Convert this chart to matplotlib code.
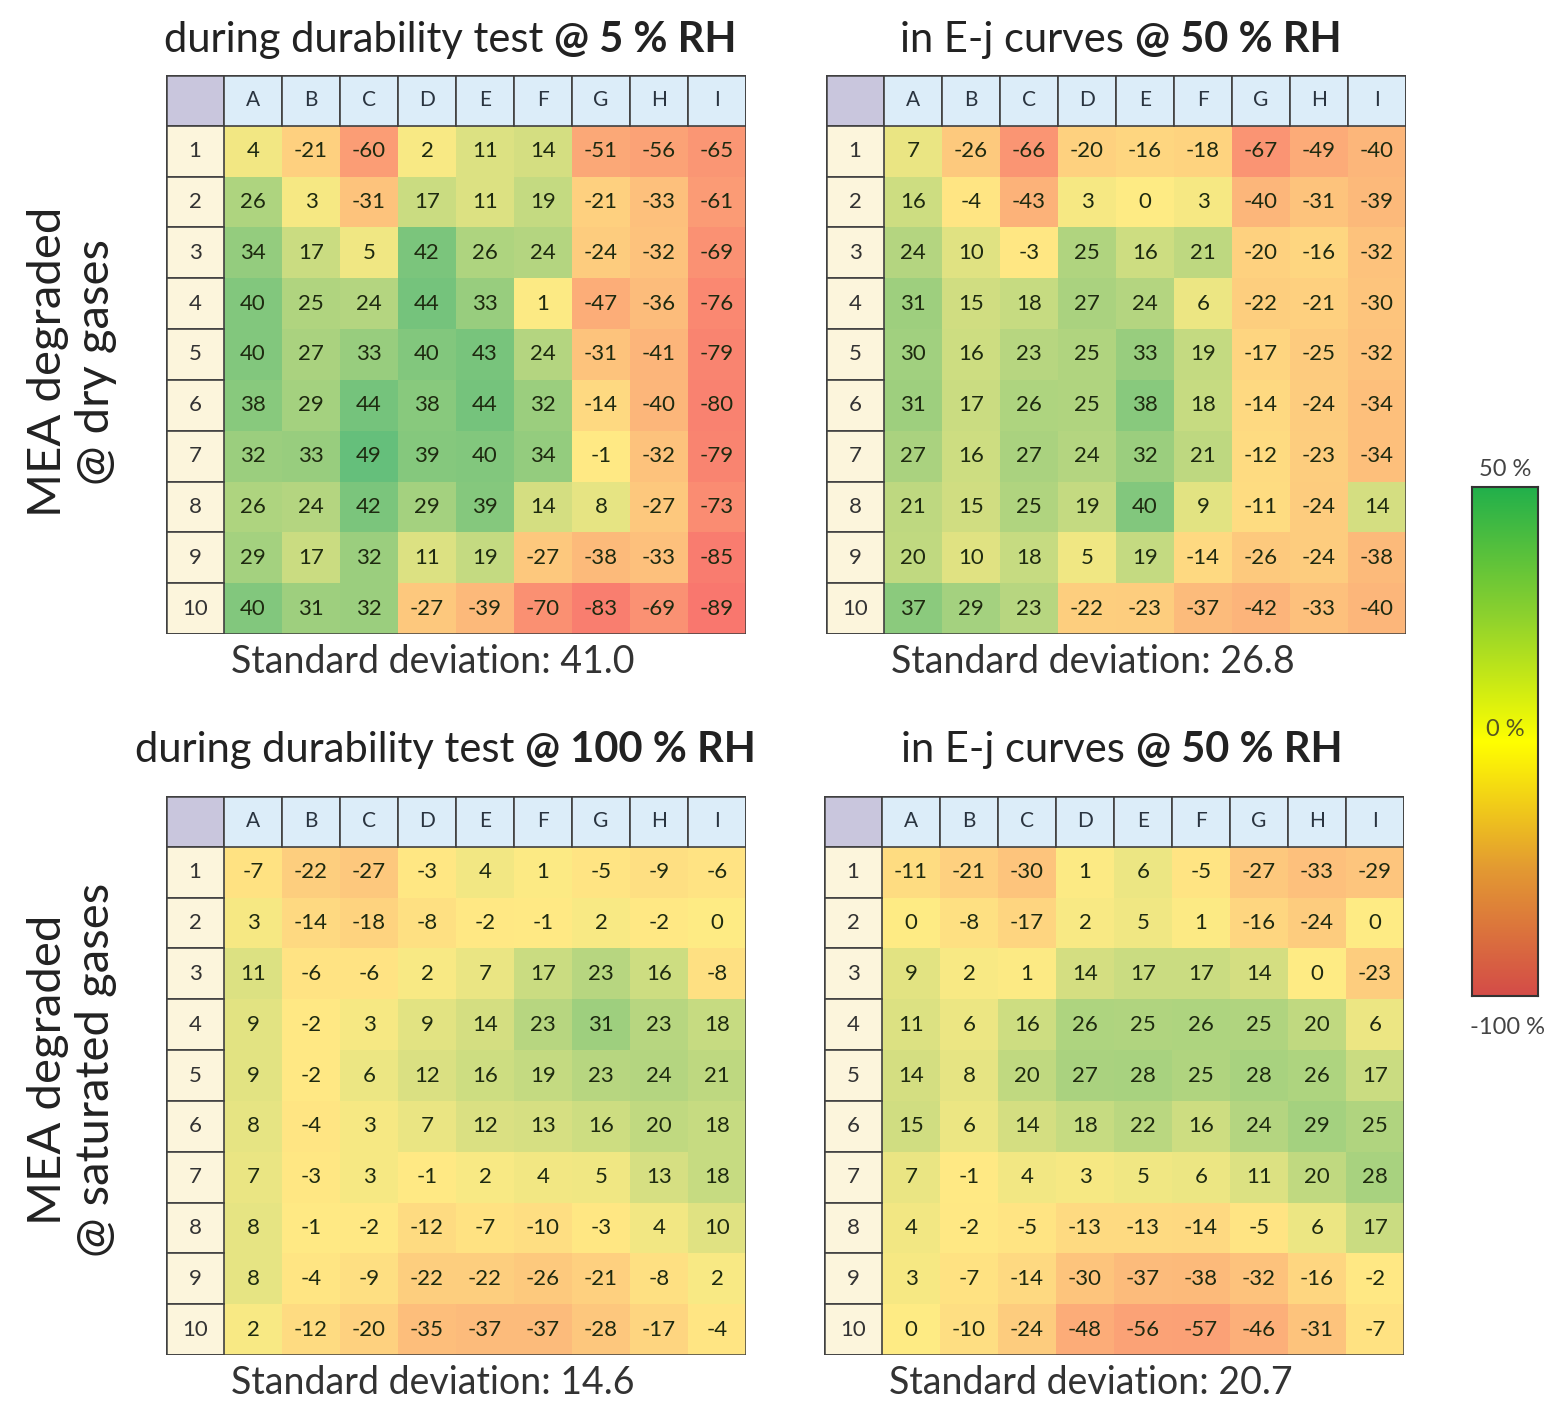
import numpy as np
import matplotlib
matplotlib.use('Agg')
import matplotlib.pyplot as plt
from matplotlib.colors import LinearSegmentedColormap, TwoSlopeNorm
from matplotlib.patches import Rectangle

plt.rcParams['font.family'] = ['Lato', 'DejaVu Sans']

# data: relative change per segment (%), rows 1-10, columns A-I
cols = ['A', 'B', 'C', 'D', 'E', 'F', 'G', 'H', 'I']
rows = [str(i) for i in range(1, 11)]

dry_durability = [
    [4, -21, -60, 2, 11, 14, -51, -56, -65],
    [26, 3, -31, 17, 11, 19, -21, -33, -61],
    [34, 17, 5, 42, 26, 24, -24, -32, -69],
    [40, 25, 24, 44, 33, 1, -47, -36, -76],
    [40, 27, 33, 40, 43, 24, -31, -41, -79],
    [38, 29, 44, 38, 44, 32, -14, -40, -80],
    [32, 33, 49, 39, 40, 34, -1, -32, -79],
    [26, 24, 42, 29, 39, 14, 8, -27, -73],
    [29, 17, 32, 11, 19, -27, -38, -33, -85],
    [40, 31, 32, -27, -39, -70, -83, -69, -89],
]
dry_ej = [
    [7, -26, -66, -20, -16, -18, -67, -49, -40],
    [16, -4, -43, 3, 0, 3, -40, -31, -39],
    [24, 10, -3, 25, 16, 21, -20, -16, -32],
    [31, 15, 18, 27, 24, 6, -22, -21, -30],
    [30, 16, 23, 25, 33, 19, -17, -25, -32],
    [31, 17, 26, 25, 38, 18, -14, -24, -34],
    [27, 16, 27, 24, 32, 21, -12, -23, -34],
    [21, 15, 25, 19, 40, 9, -11, -24, 14],
    [20, 10, 18, 5, 19, -14, -26, -24, -38],
    [37, 29, 23, -22, -23, -37, -42, -33, -40],
]
sat_durability = [
    [-7, -22, -27, -3, 4, 1, -5, -9, -6],
    [3, -14, -18, -8, -2, -1, 2, -2, 0],
    [11, -6, -6, 2, 7, 17, 23, 16, -8],
    [9, -2, 3, 9, 14, 23, 31, 23, 18],
    [9, -2, 6, 12, 16, 19, 23, 24, 21],
    [8, -4, 3, 7, 12, 13, 16, 20, 18],
    [7, -3, 3, -1, 2, 4, 5, 13, 18],
    [8, -1, -2, -12, -7, -10, -3, 4, 10],
    [8, -4, -9, -22, -22, -26, -21, -8, 2],
    [2, -12, -20, -35, -37, -37, -28, -17, -4],
]
sat_ej = [
    [-11, -21, -30, 1, 6, -5, -27, -33, -29],
    [0, -8, -17, 2, 5, 1, -16, -24, 0],
    [9, 2, 1, 14, 17, 17, 14, 0, -23],
    [11, 6, 16, 26, 25, 26, 25, 20, 6],
    [14, 8, 20, 27, 28, 25, 28, 26, 17],
    [15, 6, 14, 18, 22, 16, 24, 29, 25],
    [7, -1, 4, 3, 5, 6, 11, 20, 28],
    [4, -2, -5, -13, -13, -14, -5, 6, 17],
    [3, -7, -14, -30, -37, -38, -32, -16, -2],
    [0, -10, -24, -48, -56, -57, -46, -31, -7],
]

titles = [("during durability test", "@ 5 % RH"),
          ("in E-j curves", "@ 50 % RH"),
          ("during durability test", "@ 100 % RH"),
          ("in E-j curves", "@ 50 % RH")]
std_devs = [41.0, 26.8, 14.6, 20.7]
tables = [dry_durability, dry_ej, sat_durability, sat_ej]

W, H = 1564, 1413
fig = plt.figure(figsize=(W / 100, H / 100), dpi=100)

def px_axes(x, y, w, h):
    return fig.add_axes([x / W, 1 - (y + h) / H, w / W, h / H])

cmap = LinearSegmentedColormap.from_list('excel', ['#F8696B', '#FFEB84', '#63BE7B'])
norm = TwoSlopeNorm(vmin=-100, vcenter=0, vmax=50)
edge = '#404040'

boxes = [(166, 75), (826, 75), (166, 796), (824, 796)]
bw, bh = 580, 559

for k, (bx, by) in enumerate(boxes):
    ax = px_axes(bx, by, bw, bh)
    vals = np.array(tables[k])
    ax.pcolormesh(np.arange(10), np.arange(11), vals, cmap=cmap, norm=norm)
    ax.set_xlim(-1, 9)
    ax.set_ylim(10, -1)
    ax.axis('off')
    # corner, header and row label cells
    ax.add_patch(Rectangle((-1, -1), 1, 1, fc='#c9c6dd', ec=edge, lw=1.2))
    for j, c in enumerate(cols):
        ax.add_patch(Rectangle((j, -1), 1, 1, fc='#dcedf9', ec=edge, lw=1.2))
        ax.text(j + 0.5, -0.5, c, ha='center', va='center', fontsize=15, color='#2a3440')
    for i, r in enumerate(rows):
        ax.add_patch(Rectangle((-1, i), 1, 1, fc='#fcf5dc', ec=edge, lw=1.2))
        ax.text(-0.5, i + 0.5, r, ha='center', va='center', fontsize=16, color='#333333')
        for j in range(9):
            ax.text(j + 0.5, i + 0.5, str(vals[i, j]), ha='center', va='center',
                    fontsize=16, color='#1e2a10')
    ax.add_patch(Rectangle((-1, -1), 10, 11, fill=False, ec=edge, lw=1.8))

    # standard deviation below the table
    fig.text((bx + 267) / W, 1 - (by + 587) / H, 'Standard deviation: %.1f' % std_devs[k],
             ha='center', va='center', fontsize=27, color='#333333')

# titles: normal part + bold part, centered as a whole
renderer = fig.canvas.get_renderer()
title_pos = [(450, 40), (1121, 40), (445, 750), (1122, 750)]
for (plain, bold), (cx, cy) in zip(titles, title_pos):
    t1 = fig.text(0, 1 - cy / H, plain + ' ', ha='left', va='center', fontsize=30, color='#222222')
    t2 = fig.text(0, 1 - cy / H, bold, ha='left', va='center', fontsize=30,
                  fontweight='bold', color='#222222')
    w1 = t1.get_window_extent(renderer).width
    w2 = t2.get_window_extent(renderer).width
    x0 = cx - (w1 + w2) / 2
    t1.set_x(x0 / W)
    t2.set_x((x0 + w1) / W)

# row group labels
fig.text(72 / W, 1 - 362 / H, 'MEA degraded\n@ dry gases', rotation=90, ha='center',
         va='center', fontsize=34, color='#222222', linespacing=1.15, multialignment='center')
fig.text(72 / W, 1 - 1070 / H, 'MEA degraded\n@ saturated gases', rotation=90, ha='center',
         va='center', fontsize=34, color='#222222', linespacing=1.15, multialignment='center')

# color bar
bar_cmap = LinearSegmentedColormap.from_list(
    'bar', ['#d44c48', '#e39a32', '#ffff00', '#8cd12e', '#22b04b'])
cax = px_axes(1472, 487, 66, 509)
cax.imshow(np.linspace(0, 1, 256).reshape(-1, 1), cmap=bar_cmap, origin='lower',
           aspect='auto', extent=(0, 1, 0, 1))
cax.set_xticks([])
cax.set_yticks([])
for s in cax.spines.values():
    s.set_color('#333333')
    s.set_linewidth(1.5)
fig.text(1505 / W, 1 - 469 / H, '50 %', ha='center', va='center', fontsize=17, color='#444444')
fig.text(1505 / W, 1 - 729 / H, '0 %', ha='center', va='center', fontsize=17, color='#555522')
fig.text(1508 / W, 1 - 1027 / H, '-100 %', ha='center', va='center', fontsize=17, color='#444444')

fig.savefig('out.png', dpi=100)
